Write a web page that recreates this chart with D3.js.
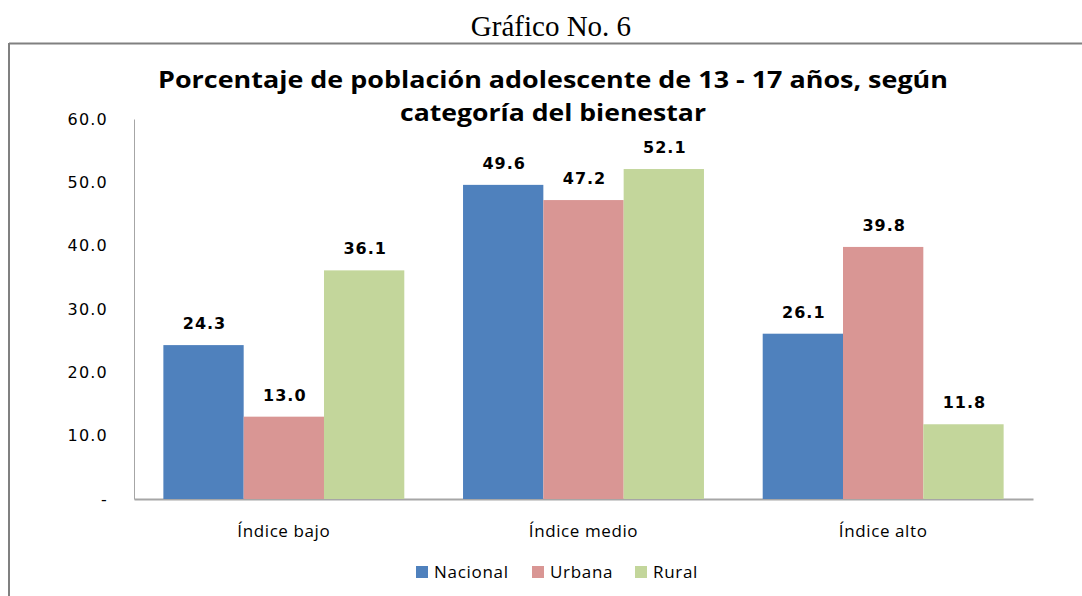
<!DOCTYPE html>
<html><head><meta charset="utf-8">
<script src="https://cdn.jsdelivr.net/npm/d3@7"></script>
<style>body{margin:0;background:#fff}svg{display:block}</style>
</head><body>
<script>
const categories = ["Índice bajo", "Índice medio", "Índice alto"];
const seriesNames = ["Nacional", "Urbana", "Rural"];
const nacional = [24.3, 49.6, 26.1];
const urbana = [13.0, 47.2, 39.8];
const rural = [36.1, 52.1, 11.8];
const yTicks = [0, 10, 20, 30, 40, 50, 60];
const colors = ["#4F81BD", "#D99694", "#C3D69B"];

const W = 1082, H = 596;
const svg = d3.select("body").append("svg").attr("width", W).attr("height", H);

// Frame
svg.append("line").attr("x1", 9).attr("x2", W).attr("y1", 43.5).attr("y2", 43.5).attr("stroke", "#808080").attr("stroke-width", 2);
svg.append("line").attr("x1", 9).attr("x2", 9).attr("y1", 43).attr("y2", H).attr("stroke", "#808080").attr("stroke-width", 2);

svg.append("text").attr("x", 551).attr("y", 36).attr("text-anchor", "middle")
  .attr("font-family", "Liberation Serif").attr("font-size", 29).text("Gráfico No. 6");

svg.append("text").attr("x", 553).attr("y", 88).attr("text-anchor", "middle")
  .attr("font-family", "Open Sans").attr("font-weight", "bold").attr("font-size", 23)
  .attr("textLength", 790).attr("lengthAdjust", "spacingAndGlyphs")
  .text("Porcentaje de población adolescente de 13 - 17 años, según");
svg.append("text").attr("x", 553).attr("y", 121).attr("text-anchor", "middle")
  .attr("font-family", "Open Sans").attr("font-weight", "bold").attr("font-size", 23)
  .attr("textLength", 306).attr("lengthAdjust", "spacingAndGlyphs")
  .text("categoría del bienestar");

const x0 = d3.scaleBand().domain(categories).range([134, 1033]).paddingInner(0.196).paddingOuter(0.098);
const x1 = d3.scaleBand().domain(seriesNames).range([0, x0.bandwidth()]);
const y = d3.scaleLinear().domain([0, 60]).range([499, 119]);

const data = categories.map((c, i) => ({c, vals: [nacional[i], urbana[i], rural[i]]}));

// axes
const yAxis = d3.axisLeft(y).tickValues(yTicks).tickSize(0).tickPadding(26)
  .tickFormat(d => d === 0 ? "-" : d3.format(".1f")(d));
const gy = svg.append("g").attr("transform", "translate(134,0)").call(yAxis);
gy.select(".domain").attr("stroke", "#A6A6A6").attr("stroke-width", 1);
gy.selectAll("text").attr("font-family", "DejaVu Sans").attr("font-size", 16)
  .attr("letter-spacing", 1.2).attr("fill", "#000");

const xAxis = d3.axisBottom(x0).tickSize(0).tickPadding(26);
const gx = svg.append("g").attr("transform", "translate(0,499)").call(xAxis);
gx.select(".domain").attr("stroke", "#A6A6A6").attr("stroke-width", 2);
gx.selectAll("text").attr("font-family", "Open Sans").attr("font-size", 17)
  .attr("letter-spacing", 0.6).attr("fill", "#000");

const groups = svg.append("g").selectAll("g").data(data).join("g")
  .attr("transform", d => `translate(${x0(d.c)},0)`);
groups.selectAll("rect").data(d => d.vals.map((v, i) => ({v, s: seriesNames[i], i})))
  .join("rect")
  .attr("x", d => x1(d.s)).attr("width", x1.bandwidth())
  .attr("y", d => y(d.v)).attr("height", d => y(0) - y(d.v))
  .attr("fill", d => colors[d.i]);
groups.selectAll("text.val").data(d => d.vals.map((v, i) => ({v, s: seriesNames[i], i})))
  .join("text").attr("class", "val")
  .attr("x", d => x1(d.s) + x1.bandwidth() / 2 + 1).attr("y", d => y(d.v) - 16)
  .attr("text-anchor", "middle").attr("font-family", "DejaVu Sans").attr("font-weight", "bold")
  .attr("font-size", 16).attr("letter-spacing", 1).text(d => d3.format(".1f")(d.v));

// legend
const legX = [416, 532, 635];
const leg = svg.append("g").selectAll("g").data(seriesNames).join("g")
  .attr("transform", (d, i) => `translate(${legX[i]},566)`);
leg.append("rect").attr("width", 12).attr("height", 12).attr("fill", (d, i) => colors[i]);
leg.append("text").attr("x", 18).attr("y", 12).attr("font-family", "Open Sans").attr("font-size", 17)
  .attr("letter-spacing", 0.7).text(d => d);
</script>
</body></html>
